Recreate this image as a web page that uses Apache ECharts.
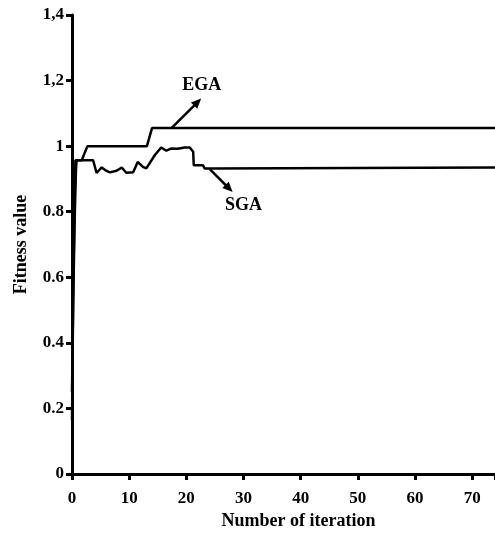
<!DOCTYPE html>
<html><head><meta charset="utf-8">
<script src="https://cdn.jsdelivr.net/npm/echarts@6/dist/echarts.min.js"></script>
<style>html,body{margin:0;padding:0;background:#fff}#c{width:495px;height:534px}</style>
</head><body><div id="c"></div>
<script>
const yTickValues = [0, 0.2, 0.4, 0.6, 0.8, 1, 1.2, 1.4];
const yTickLabels = ['0', '0.2', '0.4', '0.6', '0.8', '1', '1,2', '1,4'];
const xTickLabels = ['0', '10', '20', '30', '40', '50', '60', '70'];
const egaX = [0, 0.2, 0.5, 0.7, 0.8, 1.7, 2.7, 13.1, 14.0, 74];
const egaY = [0.25, 0.52, 0.8, 0.93, 0.957, 0.957, 1.0, 1.0, 1.055, 1.055];
const sgaX = [0, 0.2, 0.4, 0.6, 1.0, 3.7, 4.3, 5.2, 5.8, 6.6, 7.8, 8.7, 9.5, 10.7, 11.5, 12.4, 13.0, 14.5, 15.6, 16.5, 17.4, 18.5, 19.7, 20.6, 21.2, 21.3, 22.9, 23.2, 24.4, 24.6, 74];
const sgaY = [0.165, 0.52, 0.8, 0.957, 0.957, 0.957, 0.918, 0.935, 0.927, 0.92, 0.925, 0.935, 0.919, 0.92, 0.952, 0.937, 0.932, 0.973, 0.996, 0.986, 0.993, 0.992, 0.996, 0.996, 0.983, 0.942, 0.942, 0.932, 0.932, 0.935, 0.935];
const annotations = [
  {name: 'EGA', from: [17.4, 1.055], to: [22.6, 1.145], text: [22.7, 1.186]},
  {name: 'SGA', from: [24.1, 0.93], to: [28.1, 0.86], text: [30.0, 0.82]}
];
const pair = (xs, ys) => xs.map((x, i) => [x, ys[i]]);
const font = 'Liberation Serif';
const chart = echarts.init(document.getElementById('c'));
chart.setOption({
  animation: false,
  grid: {left: 72, right: 0, top: 15, bottom: 60, outerBoundsMode: 'none', containLabel: false},
  xAxis: {
    type: 'value', min: 0, max: 74, interval: 10,
    name: 'Number of iteration', nameLocation: 'middle', nameGap: 35,
    nameTextStyle: {fontFamily: font, fontSize: 18, fontWeight: 'bold', color: '#000', padding: [0, 0, 0, 30]},
    axisLine: {lineStyle: {color: '#000', width: 3}},
    axisTick: {show: true, length: 6, lineStyle: {color: '#000', width: 3}},
    axisLabel: {fontFamily: font, fontSize: 17, fontWeight: 'bold', color: '#000', margin: 16,
      formatter: v => (Math.abs(v % 10) < 1e-6 ? (xTickLabels[Math.round(v / 10)] ?? '') : '')},
    splitLine: {show: false}
  },
  yAxis: {
    type: 'value', min: 0, max: 1.4, interval: 0.2,
    name: 'Fitness value', nameLocation: 'middle', nameGap: 42,
    nameTextStyle: {fontFamily: font, fontSize: 18, fontWeight: 'bold', color: '#000'},
    axisLine: {show: true, lineStyle: {color: '#000', width: 3}},
    axisTick: {show: true, length: 6, lineStyle: {color: '#000', width: 3}},
    axisLabel: {fontFamily: font, fontSize: 17, fontWeight: 'bold', color: '#000', margin: 8,
      formatter: v => { const i = yTickValues.findIndex(t => Math.abs(t - v) < 1e-6); return i >= 0 ? yTickLabels[i] : ''; }},
    splitLine: {show: false}
  },
  series: [
    {name: 'EGA', type: 'line', data: pair(egaX, egaY), symbol: 'none', lineStyle: {color: '#000', width: 2.5}},
    {name: 'SGA', type: 'line', data: pair(sgaX, sgaY), symbol: 'none', lineStyle: {color: '#000', width: 2.5}}
  ]
});
const g = [];
annotations.forEach(a => {
  const p1 = chart.convertToPixel({gridIndex: 0}, a.from);
  const p2 = chart.convertToPixel({gridIndex: 0}, a.to);
  const pt = chart.convertToPixel({gridIndex: 0}, a.text);
  const ang = Math.atan2(p2[1] - p1[1], p2[0] - p1[0]);
  const L = 11, W = 0.42;
  g.push({type: 'line', shape: {x1: p1[0], y1: p1[1], x2: p2[0] - Math.cos(ang) * 5, y2: p2[1] - Math.sin(ang) * 5}, style: {stroke: '#000', lineWidth: 2.5}});
  g.push({type: 'polygon', shape: {points: [
    [p2[0], p2[1]],
    [p2[0] - L * Math.cos(ang - W), p2[1] - L * Math.sin(ang - W)],
    [p2[0] - L * Math.cos(ang + W), p2[1] - L * Math.sin(ang + W)]
  ]}, style: {fill: '#000'}});
  g.push({type: 'text', x: pt[0], y: pt[1], style: {text: a.name, font: 'bold 18px "Liberation Serif"', fill: '#000', align: 'center', verticalAlign: 'middle'}});
});
chart.setOption({graphic: g});
</script>
</body></html>
